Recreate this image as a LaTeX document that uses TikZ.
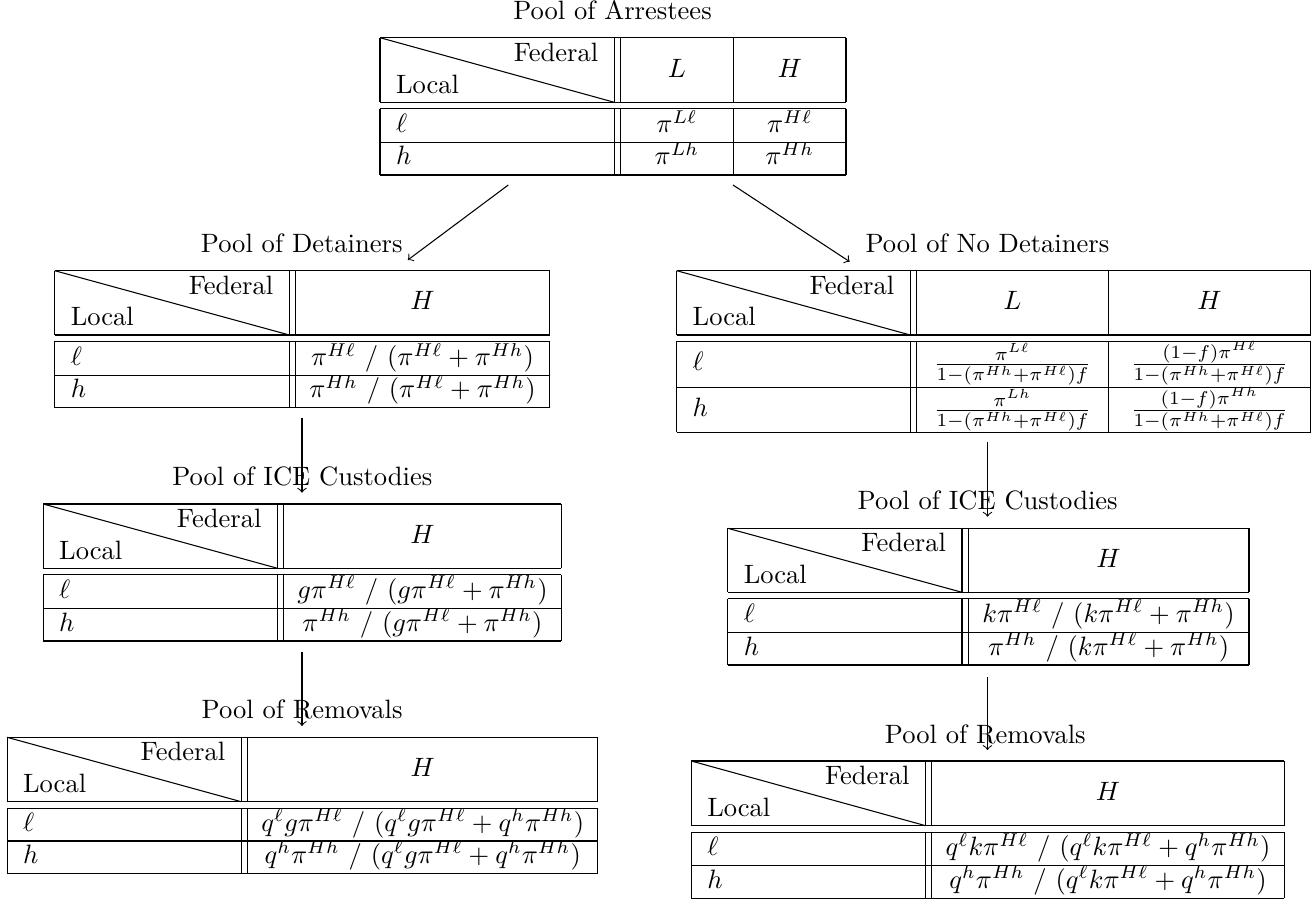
\documentclass[tikz,border=0pt]{standalone}
\usetikzlibrary{calc}
\tikzset{
  rule/.style={line width=0.4pt},
  lab/.style={inner sep=0pt, outer sep=0pt},
  cell/.style={inner sep=0pt, outer sep=0pt, anchor=base},
  flow/.style={->, line width=0.4pt},
}
% #1 name, #2 left, #3 first double rule, #4 right, #5 top, #6 header bottom, #7 row1 bottom, #8 row2 bottom
\newcommand\PoolFrame[8]{%
  \pgfmathsetmacro\pfDvb{#3+6.2}%
  \pgfmathsetmacro\pfDd{#6+6.4}%
  \draw[rule] (#2,#5) -- (#4,#5) (#2,#6) -- (#4,#6) (#2,\pfDd) -- (#4,\pfDd)
              (#2,#7) -- (#4,#7) (#2,#8) -- (#4,#8);
  \foreach \xx in {#2,#3,\pfDvb,#4}{\draw[rule] (\xx,#5) -- (\xx,#6) (\xx,\pfDd) -- (\xx,#8);}
  \draw[rule] (#2,#5) -- (#3,#6);
  \node[lab,anchor=base east] (#1-fed) at ({#3-16},{#5+23.5}) {Federal};
  \node[lab,anchor=base west] (#1-loc) at ({#2+16},{#6-9}) {Local};
}
% #1 name, #2 x, #3 baseline row 1, #4 baseline row 2
\newcommand\RowLab[4]{%
  \node[lab,anchor=base west] (#1-l) at (#2,#3) {$\ell$};
  \node[lab,anchor=base west] (#1-h) at (#2,#4) {$h$};
}
\newcommand\NDfrac[1]{$\frac{#1}{1-(\pi^{Hh}+\pi^{H\ell})f}$}
\begin{document}
\begin{tikzpicture}[x=0.3766pt,y=-0.3766pt]
\useasboundingbox (0,0) rectangle (1314,901);

% ---------- Pool of Arrestees ----------
\node[cell] (arr-title) at (612.5,20) {Pool of Arrestees};
\PoolFrame{arr}{380}{614.3}{846}{37.7}{102.3}{142.7}{175}
\draw[rule] (733.3,37.7) -- (733.3,102.3) (733.3,108.7) -- (733.3,175);
\node[cell] (arr-L) at (676.9,77.3) {$L$};
\node[cell] (arr-H) at (789.7,77.3) {$H$};
\RowLab{arr}{396}{132.7}{165}
\node[cell] (arr-Ll) at (676.9,132.7) {$\pi^{L\ell}$};
\node[cell] (arr-Hl) at (789.7,132.7) {$\pi^{H\ell}$};
\node[cell] (arr-Lh) at (676.9,165) {$\pi^{Lh}$};
\node[cell] (arr-Hh) at (789.7,165) {$\pi^{Hh}$};

% ---------- Pool of Detainers ----------
\node[cell] (det-title) at (301.7,253) {Pool of Detainers};
\PoolFrame{det}{54.8}{289.3}{549.6}{270.7}{335}{375.7}{407.7}
\node[cell] (det-H) at (422.5,310) {$H$};
\RowLab{det}{70.8}{365.7}{397.7}
\node[cell] (det-1) at (422.5,365.7) {$\pi^{H\ell}\ /\ (\pi^{H\ell}+\pi^{Hh})$};
\node[cell] (det-2) at (422.5,397.7) {$\pi^{Hh}\ /\ (\pi^{H\ell}+\pi^{Hh})$};

% ---------- Pool of No Detainers ----------
\node[cell] (nod-title) at (987.4,253) {Pool of No Detainers};
\PoolFrame{nod}{676.7}{910.2}{1310.5}{270.7}{335}{387.7}{432.3}
\draw[rule] (1108.3,270.7) -- (1108.3,335) (1108.3,341.4) -- (1108.3,432.3);
\node[cell] (nod-L) at (1012.4,310) {$L$};
\node[cell] (nod-H) at (1209.4,310) {$H$};
\RowLab{nod}{692.7}{371}{417}
\node[cell] (nod-Ll) at (1012.4,371) {\NDfrac{\pi^{L\ell}}};
\node[cell] (nod-Hl) at (1209.4,371) {\NDfrac{(1-f)\pi^{H\ell}}};
\node[cell] (nod-Lh) at (1012.4,417) {\NDfrac{\pi^{Lh}}};
\node[cell] (nod-Hh) at (1209.4,417) {\NDfrac{(1-f)\pi^{Hh}}};

% ---------- Pool of ICE Custodies (left) ----------
\node[cell] (icl-title) at (302.3,485) {Pool of ICE Custodies};
\PoolFrame{icl}{43.2}{277.5}{561.4}{504}{568.3}{608.3}{641}
\node[cell] (icl-H) at (422.5,543.3) {$H$};
\RowLab{icl}{59.2}{598.3}{631}
\node[cell] (icl-1) at (422.5,598.3) {$g\pi^{H\ell}\ /\ (g\pi^{H\ell}+\pi^{Hh})$};
\node[cell] (icl-2) at (422.5,631) {$\pi^{Hh}\ /\ (g\pi^{H\ell}+\pi^{Hh})$};

% ---------- Pool of ICE Custodies (right) ----------
\node[cell] (icr-title) at (987.7,509) {Pool of ICE Custodies};
\PoolFrame{icr}{727.8}{962}{1249}{528.3}{592.3}{632.3}{665}
\node[cell] (icr-H) at (1108.6,567.3) {$H$};
\RowLab{icr}{743.8}{622.3}{655}
\node[cell] (icr-1) at (1108.6,622.3) {$k\pi^{H\ell}\ /\ (k\pi^{H\ell}+\pi^{Hh})$};
\node[cell] (icr-2) at (1108.6,655) {$\pi^{Hh}\ /\ (k\pi^{H\ell}+\pi^{Hh})$};

% ---------- Pool of Removals (left) ----------
\node[cell] (rml-title) at (302.1,718.3) {Pool of Removals};
\PoolFrame{rml}{7.1}{241.2}{597.9}{737.3}{801.7}{841}{873.3}
\node[cell] (rml-H) at (422.7,776.7) {$H$};
\RowLab{rml}{23.1}{831}{863.3}
\node[cell] (rml-1) at (422.7,831) {$q^\ell g\pi^{H\ell}\ /\ (q^\ell g\pi^{H\ell}+q^h\pi^{Hh})$};
\node[cell] (rml-2) at (422.7,863.3) {$q^h\pi^{Hh}\ /\ (q^\ell g\pi^{H\ell}+q^h\pi^{Hh})$};

% ---------- Pool of Removals (right) ----------
\node[cell] (rmr-title) at (985.3,743.3) {Pool of Removals};
\PoolFrame{rmr}{691.3}{925.6}{1284.3}{761}{825.7}{865.7}{898.3}
\node[cell] (rmr-H) at (1108,800.7) {$H$};
\RowLab{rmr}{707.3}{855.7}{888.3}
\node[cell] (rmr-1) at (1108,855.7) {$q^\ell k\pi^{H\ell}\ /\ (q^\ell k\pi^{H\ell}+q^h\pi^{Hh})$};
\node[cell] (rmr-2) at (1108,888.3) {$q^h\pi^{Hh}\ /\ (q^\ell k\pi^{H\ell}+q^h\pi^{Hh})$};

% ---------- connectors ----------
\coordinate (a1s) at (508.3,185);  \coordinate (a1e) at (407.8,260);
\coordinate (a2s) at (733,185);    \coordinate (a2e) at (849.7,261.7);
\coordinate (a3s) at (302,418);    \coordinate (a3e) at (302,492.7);
\coordinate (a4s) at (987.5,442);  \coordinate (a4e) at (987.5,516.7);
\coordinate (a5s) at (302,652);    \coordinate (a5e) at (302,726);
\coordinate (a6s) at (987.5,677);  \coordinate (a6e) at (987.5,750);
\draw[flow] (a1s) -- (a1e);
\draw[flow] (a2s) -- (a2e);
\draw[flow] (a3s) -- (a3e);
\draw[flow] (a4s) -- (a4e);
\draw[flow] (a5s) -- (a5e);
\draw[flow] (a6s) -- (a6e);
\end{tikzpicture}
\end{document}
